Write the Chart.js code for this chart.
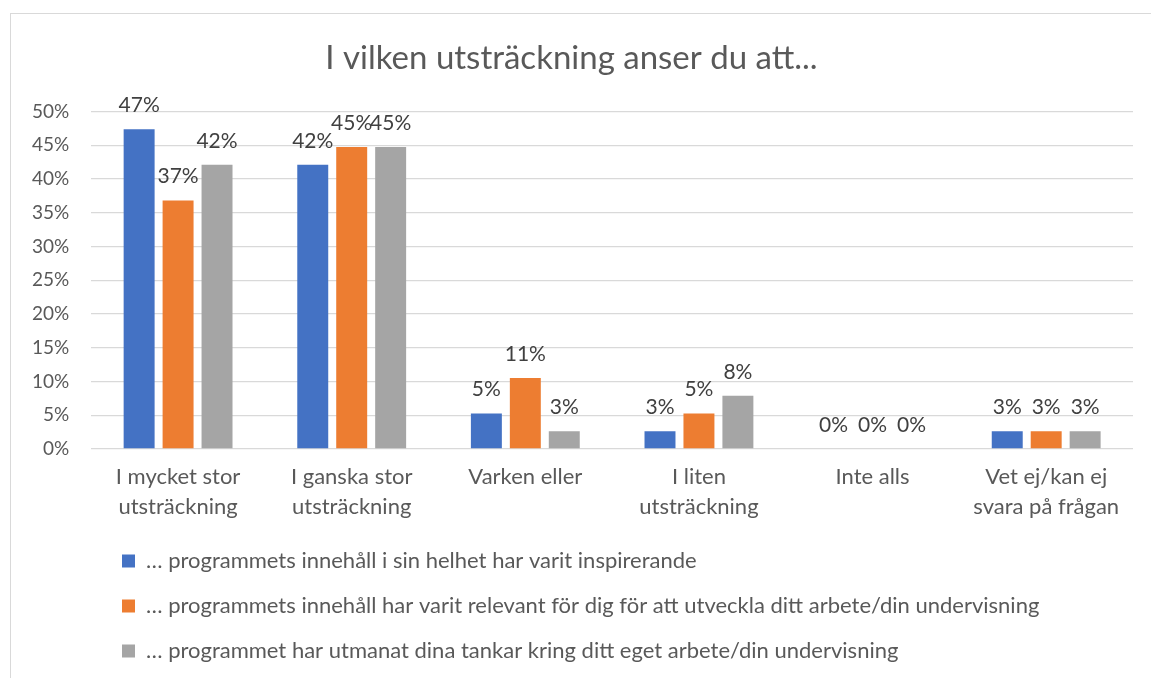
<!DOCTYPE html>
<html>
<head>
<meta charset="utf-8">
<script src="https://cdn.jsdelivr.net/npm/chart.js@4/dist/chart.umd.min.js"></script>
<style>
  html, body { margin: 0; padding: 0; background: #fff; }
  #frame {
    position: absolute; left: 10px; top: 13px;
    width: 1170px; height: 700px;
    border: 1.5px solid #d9d9d9;
  }
  #wrap { position: absolute; left: 0; top: 0; width: 1151px; height: 678px; }
</style>
</head>
<body>
<div id="frame"></div>
<div id="wrap"><canvas id="chart"></canvas></div>
<script>
// Data
const categories = [
    ['I mycket stor', 'utsträckning'],
    ['I ganska stor', 'utsträckning'],
    'Varken eller',
    ['I liten', 'utsträckning'],
    'Inte alls',
    ['Vet ej/kan ej', 'svara på frågan']
];
const inspirerande = [0.4737, 0.4211, 0.0526, 0.0263, 0, 0.0263];
const relevant = [0.3684, 0.4474, 0.1053, 0.0526, 0, 0.0263];
const utmanat = [0.4211, 0.4474, 0.0263, 0.0789, 0, 0.0263];
const seriesNames = [
    '… programmets innehåll i sin helhet har varit inspirerande',
    '… programmets innehåll har varit relevant för dig för att utveckla ditt arbete/din undervisning',
    '… programmet har utmanat dina tankar kring ditt eget arbete/din undervisning'
];

const fontFamily = 'Lato, "Open Sans", sans-serif';
const textColor = '#595959';

// Draws the value above each bar
const valueLabels = {
    id: 'valueLabels',
    afterDatasetsDraw(chart) {
        const ctx = chart.ctx;
        ctx.save();
        ctx.font = '21px ' + fontFamily;
        ctx.fillStyle = '#404040';
        ctx.textAlign = 'center';
        ctx.textBaseline = 'alphabetic';
        chart.data.datasets.forEach((ds, i) => {
            chart.getDatasetMeta(i).data.forEach((bar, j) => {
                ctx.fillText(Math.round(ds.data[j] * 100) + '%', bar.x, bar.y - 17);
            });
        });
        ctx.restore();
    }
};

// Moves the legend rows in from the left edge
const legendIndent = {
    id: 'legendIndent',
    afterLayout(chart) {
        if (chart.legend) {
            chart.legend.left = 99;
        }
    }
};

new Chart(document.getElementById('chart'), {
    type: 'bar',
    data: {
        labels: categories,
        datasets: [
            { label: seriesNames[0], data: inspirerande, backgroundColor: '#4472C4' },
            { label: seriesNames[1], data: relevant, backgroundColor: '#ED7D31' },
            { label: seriesNames[2], data: utmanat, backgroundColor: '#A5A5A5' }
        ]
    },
    options: {
        responsive: true,
        maintainAspectRatio: false,
        animation: false,
        categoryPercentage: 0.673,
        barPercentage: 0.795,
        layout: { padding: { left: 10, right: 18, top: 0, bottom: 6 } },
        scales: {
            x: {
                grid: { display: false },
                border: { display: false },
                ticks: {
                    color: textColor,
                    font: { family: fontFamily, size: 22, lineHeight: 1.364 },
                    padding: 5,
                    maxRotation: 0,
                    autoSkip: false
                }
            },
            y: {
                min: 0,
                max: 0.5,
                grid: { color: '#d9d9d9', lineWidth: 1.3, drawTicks: false },
                border: { display: false },
                ticks: {
                    stepSize: 0.05,
                    color: textColor,
                    padding: 22,
                    font: { family: fontFamily, size: 19 },
                    callback: function(value) {
                        return Math.round(value * 100) + '%';
                    }
                }
            }
        },
        plugins: {
            title: {
                display: true,
                text: 'I vilken utsträckning anser du att...',
                color: textColor,
                font: { family: fontFamily, size: 33, weight: 'normal', lineHeight: 1.2 },
                padding: { top: 39, bottom: 33 }
            },
            legend: {
                position: 'bottom',
                align: 'start',
                labels: {
                    color: textColor,
                    boxWidth: 13,
                    boxHeight: 13,
                    padding: 23,
                    font: { family: fontFamily, size: 22 }
                }
            },
            tooltip: { enabled: false }
        }
    },
    plugins: [valueLabels, legendIndent]
});
</script>
</body>
</html>
